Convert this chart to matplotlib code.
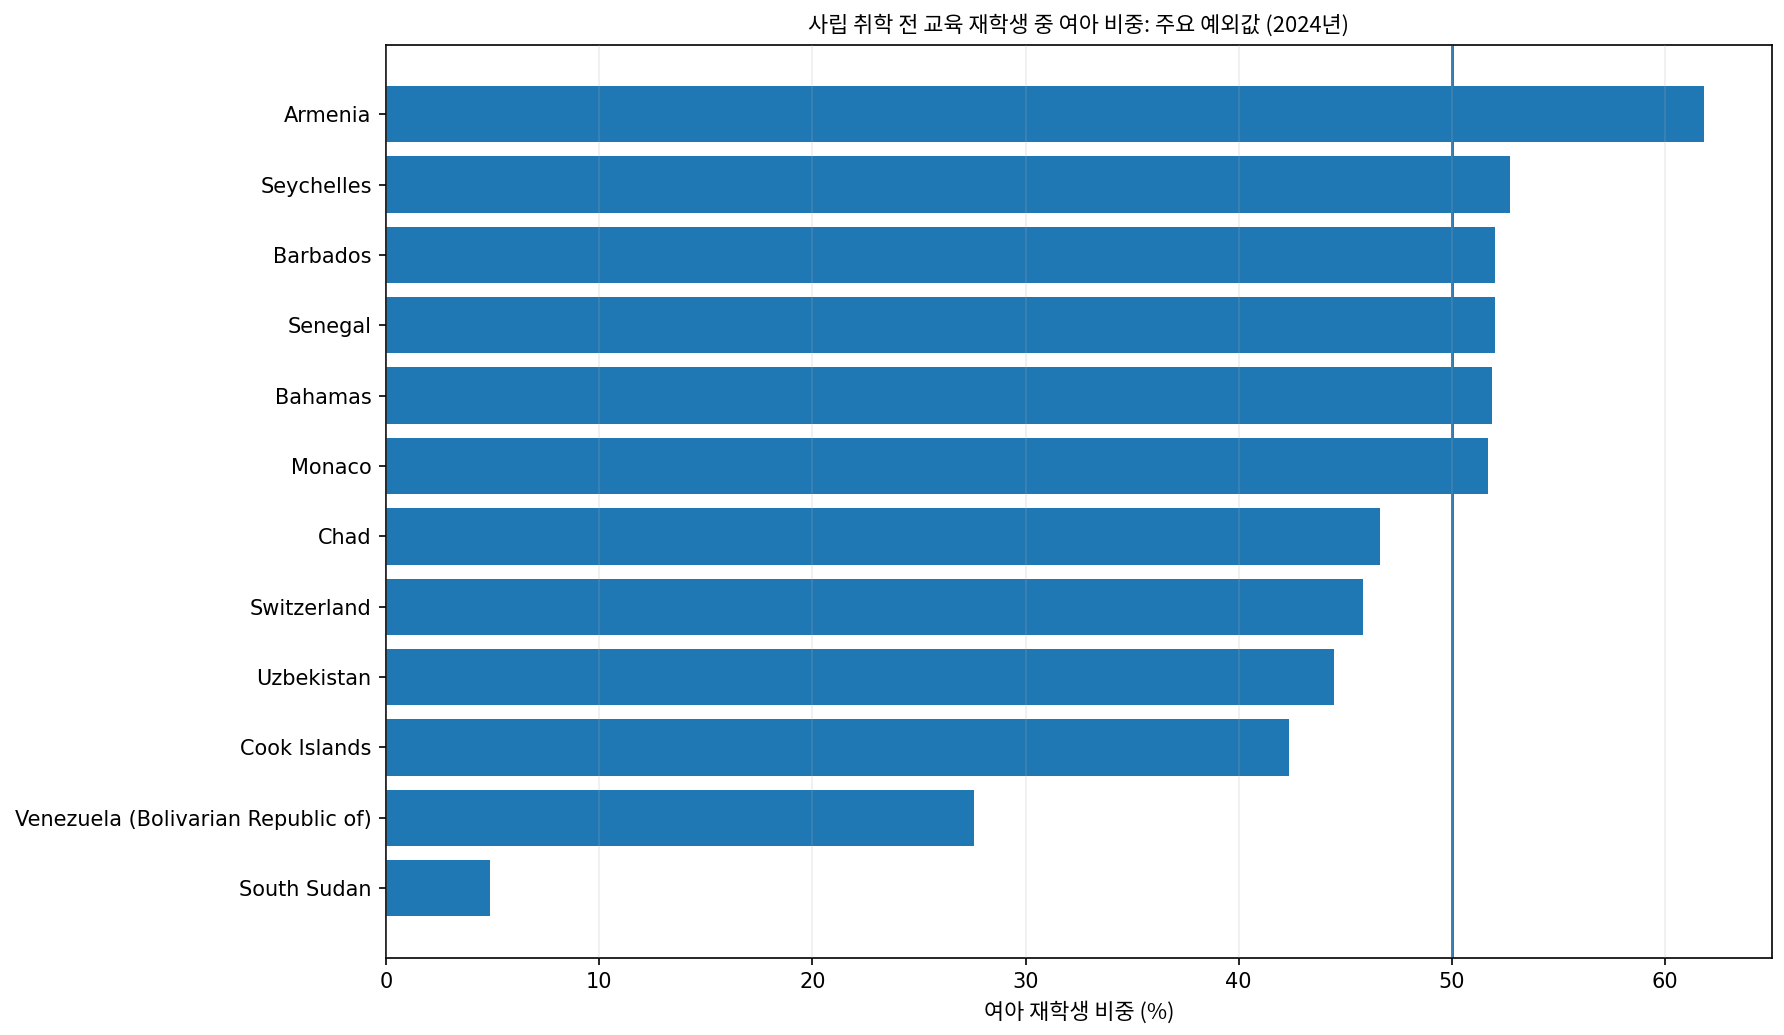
import matplotlib
matplotlib.use("Agg")
import matplotlib.pyplot as plt

# 2024 values
countries = [
    "Armenia", "Seychelles", "Barbados", "Senegal", "Bahamas", "Monaco",
    "Chad", "Switzerland", "Uzbekistan", "Cook Islands",
    "Venezuela (Bolivarian Republic of)", "South Sudan",
]
female_share = [61.85, 52.74, 52.03, 52.03, 51.89, 51.7,
                46.62, 45.85, 44.45, 42.38, 27.6, 4.86]
parity_line = 50

cjk = ["Noto Sans CJK KR", "DejaVu Sans"]

fig, ax = plt.subplots(figsize=(1784 / 150, 1035 / 150), dpi=150)
fig.subplots_adjust(left=0.2165, right=0.993, top=0.957, bottom=0.0745)

# first country on top
y = list(range(len(countries)))[::-1]
ax.barh(y, female_share, color="#1f77b4", height=0.8)
ax.axvline(parity_line, color="#1f77b4", linewidth=1.4, zorder=0.5)

ax.set_yticks(y)
ax.set_yticklabels(countries)
ax.set_xlim(0, 65)
ax.grid(axis="x", alpha=0.22)
ax.set_axisbelow(False)

ax.set_title("사립 취학 전 교육 재학생 중 여아 비중: 주요 예외값 (2024년)",
             family=cjk, fontsize=10.5)
ax.set_xlabel("여아 재학생 비중 (%)", family=cjk, fontsize=10.5)

fig.savefig("out.png", dpi=150)
